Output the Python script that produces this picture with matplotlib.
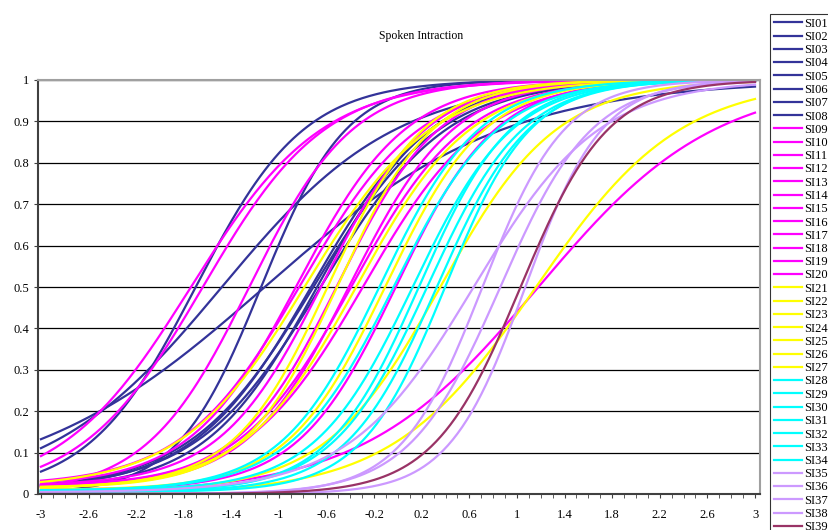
import numpy as np
import matplotlib.pyplot as plt

plt.rcParams['font.family'] = ['Liberation Serif', 'DejaVu Serif']

# item parameters: difficulty (P=0.5 point), slope, lower asymptote
items = ["SI%02d" % i for i in range(1, 40)]
difficulty = [-1.12, -1.48, -1.70, -1.15, -0.72, -0.70, -0.67, -0.64,
              -1.74, -1.64, -1.25, -0.84, -0.81, -0.63, -0.50, -0.40, -0.38, -0.28, -0.01, 1.18,
              -0.77, -0.58, -0.50, -0.34, -0.10, 0.36, 1.16,
              -0.15, -0.03, 0.13, 0.18, 0.25, 0.33, 0.40,
              0.64, 0.71, 0.86, 1.07,
              1.03]
slope = [1.00, 1.37, 2.20, 2.80, 2.00, 1.90, 2.10, 1.90,
         1.82, 1.95, 2.30, 2.20, 2.00, 2.30, 2.35, 2.30, 2.10, 2.00, 2.40, 1.35,
         1.90, 2.50, 2.50, 2.10, 2.40, 2.05, 1.65,
         2.40, 2.30, 2.40, 2.60, 2.50, 2.60, 2.80,
         1.90, 2.90, 2.60, 3.10,
         2.72]
guess = [0.0, 0.0, 0.0, 0.0, 0.01, 0.01, 0.01, 0.01,
         0.0, 0.0, 0.0, 0.02, 0.02, 0.02, 0.02, 0.015, 0.015, 0.015, 0.01, 0.0,
         0.015, 0.015, 0.015, 0.012, 0.01, 0.005, 0.0,
         0.008, 0.008, 0.008, 0.006, 0.006, 0.005, 0.005,
         0.004, 0.0, 0.0, 0.0,
         0.0]
group_sizes = [8, 12, 7, 7, 4, 1]
group_colors = ["#333399", "#FF00FF", "#FFFF00", "#00FFFF", "#CC99FF", "#993366"]

colors = []
for n, col in zip(group_sizes, group_colors):
    colors += [col] * n

theta = np.linspace(-3, 3, 301)

fig = plt.figure(figsize=(8.29, 5.30), dpi=100)
ax = fig.add_axes([38 / 829, 36 / 530, 722 / 829, 414 / 530])

for name, b, a, c, col in zip(items, difficulty, slope, guess, colors):
    p = c + (1 - c) / (1 + np.exp(-a * (theta - b)))
    ax.plot(theta, p, color=col, lw=1.6, label=name)

ax.set_xlim(-3.025, 3.042)
ax.set_ylim(0, 1)
ax.set_yticks(np.arange(0, 1.01, 0.1))
ax.set_yticklabels(["0"] + ["%.1f" % v for v in np.arange(0.1, 0.95, 0.1)] + ["1"])
xt = np.arange(-3, 3.01, 0.4)
ax.set_xticks(xt)
ax.set_xticklabels(["%g" % round(v, 1) for v in xt])
ax.set_xticks(np.arange(-3, 3.01, 0.1), minor=True)
ax.grid(axis='y', color='black', lw=0.9)
ax.tick_params(axis='both', labelsize=9, length=3, direction='out', color='#404040')
ax.tick_params(axis='x', which='minor', length=3, color='#404040')
ax.tick_params(axis='x', pad=8)
for s in ['top', 'right']:
    ax.spines[s].set_color('#a0a0a0')
    ax.spines[s].set_linewidth(1.5)
for s in ['left', 'bottom']:
    ax.spines[s].set_color('#404040')
    ax.spines[s].set_linewidth(1.5)

fig.text(421 / 829, 1 - 36 / 530, "Spoken Intraction", ha='center', va='center', fontsize=8.5)

leg = fig.legend(loc='upper left', bbox_to_anchor=(770 / 829, 1 - 14 / 530), fontsize=9,
                 handlelength=2.3, handletextpad=0.16, labelspacing=0.1, borderpad=0.3,
                 frameon=True, fancybox=False, borderaxespad=0)
leg.get_frame().set_edgecolor('black')
leg.get_frame().set_linewidth(0.8)

fig.savefig("out.png", dpi=100)
